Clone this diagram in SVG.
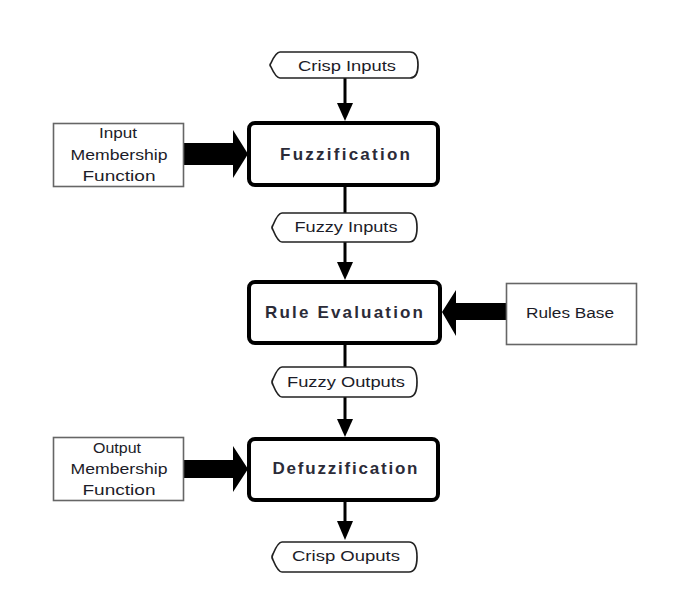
<svg xmlns="http://www.w3.org/2000/svg" width="674" height="610" viewBox="0 0 674 610">
<defs>
<style>
.bg{fill:#ffffff}
.main{fill:#ffffff;stroke:#000000;stroke-width:4}
.side{fill:#ffffff;stroke:#666666;stroke-width:1.6}
.term{fill:#ffffff;stroke:#222222;stroke-width:1.7;stroke-linejoin:round}
.flow{stroke:#000000;stroke-width:3;fill:none}
.head{fill:#000000}
.big{fill:#000000}
.lbl{font-family:"Liberation Sans",Arial,sans-serif;font-weight:bold;font-size:17px;fill:#2b2b38;text-anchor:middle}
.sm{font-family:"Liberation Sans",Arial,sans-serif;font-size:14px;fill:#1c1c28;text-anchor:middle}
</style>
</defs>
<rect class="bg" x="0" y="0" width="674" height="610"/>

<g id="connectors">
  <line class="flow" x1="345" y1="78" x2="345" y2="105"/>
  <polygon class="head" points="337,103 353,103 345,121"/>
  <line class="flow" x1="345" y1="187" x2="345" y2="213"/>
  <line class="flow" x1="345" y1="242" x2="345" y2="264"/>
  <polygon class="head" points="337,262 353,262 345,280"/>
  <line class="flow" x1="345" y1="345" x2="345" y2="367"/>
  <line class="flow" x1="345" y1="397" x2="345" y2="421"/>
  <polygon class="head" points="337,419 353,419 345,437"/>
  <line class="flow" x1="345" y1="502" x2="345" y2="523"/>
  <polygon class="head" points="337,521 353,521 345,540"/>
  <polygon class="big" points="184,143 233,143 233,130 248,154 233,178 233,165 184,165"/>
  <polygon class="big" points="506,303 456,303 456,290 442,312 456,336 456,320 506,320"/>
  <polygon class="big" points="184,460 233,460 233,446 248,469 233,492 233,478 184,478"/>
</g>

<g id="crisp-inputs">
  <path class="term" d="M280,52 L410,52 Q418,52 418,65 Q418,78 410,78 L280,78 Q276,78 271,67 Q269,65 271,63 Q276,52 280,52 Z"/>
  <text class="sm" x="347" y="71" textLength="98" lengthAdjust="spacingAndGlyphs">Crisp Inputs</text>
</g>

<g id="fuzzification">
  <rect class="main" x="249" y="123" width="189" height="62" rx="6"/>
  <text class="lbl" x="345" y="160" textLength="130">Fuzzification</text>
</g>

<g id="input-mf">
  <rect class="side" x="53.5" y="123.5" width="130" height="63"/>
  <text class="sm" x="118" y="138" textLength="38" lengthAdjust="spacingAndGlyphs">Input</text>
  <text class="sm" x="119" y="160" textLength="97" lengthAdjust="spacingAndGlyphs">Membership</text>
  <text class="sm" x="119" y="181" textLength="73" lengthAdjust="spacingAndGlyphs">Function</text>
</g>

<g id="fuzzy-inputs">
  <path class="term" d="M282,213 L409,213 Q417,213 417,227.5 Q417,242 409,242 L282,242 Q278,242 273,230 Q271,227.5 273,225 Q278,213 282,213 Z"/>
  <text class="sm" x="346" y="232" textLength="103" lengthAdjust="spacingAndGlyphs">Fuzzy Inputs</text>
</g>

<g id="rule-evaluation">
  <rect class="main" x="249" y="282" width="191" height="61" rx="6"/>
  <text class="lbl" x="344" y="318" textLength="158">Rule Evaluation</text>
</g>

<g id="rules-base">
  <rect class="side" x="506.5" y="283.5" width="130" height="61"/>
  <text class="sm" x="570" y="318" textLength="88" lengthAdjust="spacingAndGlyphs">Rules Base</text>
</g>

<g id="fuzzy-outputs">
  <path class="term" d="M282,367 L409,367 Q417,367 417,382 Q417,397 409,397 L282,397 Q278,397 273,385 Q271,382 273,379 Q278,367 282,367 Z"/>
  <text class="sm" x="346" y="387" textLength="118" lengthAdjust="spacingAndGlyphs">Fuzzy Outputs</text>
</g>

<g id="defuzzification">
  <rect class="main" x="249" y="439" width="189" height="61" rx="6"/>
  <text class="lbl" x="345" y="474" textLength="145">Defuzzification</text>
</g>

<g id="output-mf">
  <rect class="side" x="53.5" y="437.5" width="130" height="63"/>
  <text class="sm" x="117" y="453" textLength="48" lengthAdjust="spacingAndGlyphs">Output</text>
  <text class="sm" x="119" y="474" textLength="97" lengthAdjust="spacingAndGlyphs">Membership</text>
  <text class="sm" x="119" y="495" textLength="73" lengthAdjust="spacingAndGlyphs">Function</text>
</g>

<g id="crisp-outputs">
  <path class="term" d="M282,542 L409,542 Q417,542 417,557 Q417,572 409,572 L282,572 Q278,572 273,560 Q271,557 273,554 Q278,542 282,542 Z"/>
  <text class="sm" x="346" y="561" textLength="108" lengthAdjust="spacingAndGlyphs">Crisp Ouputs</text>
</g>
</svg>
